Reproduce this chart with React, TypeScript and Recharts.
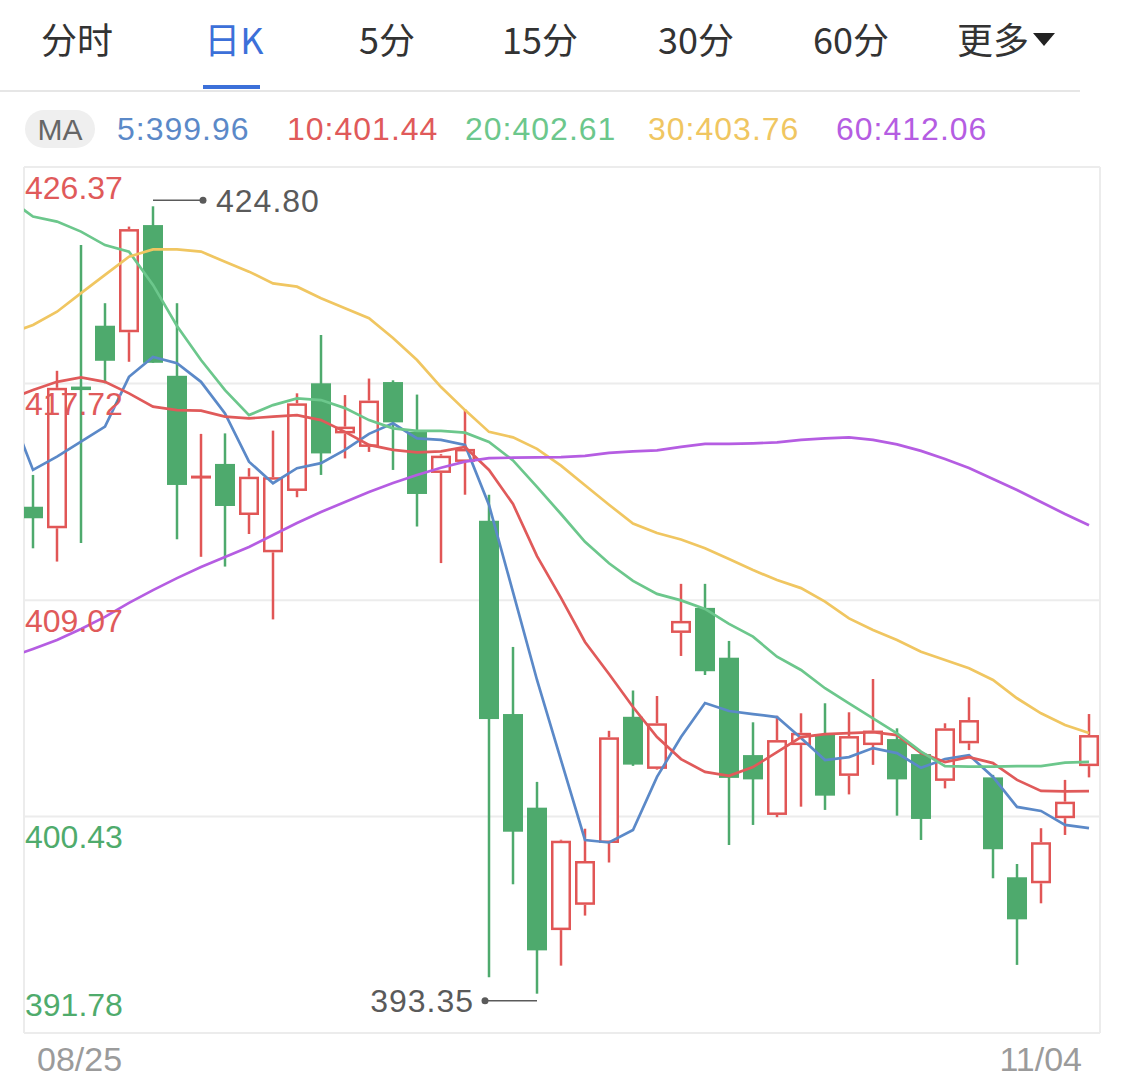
import React from "react";
import {
  ComposedChart, Bar, Line, XAxis, YAxis, CartesianGrid, ReferenceLine, ReferenceDot,
} from "recharts";

const SANS = '"Liberation Sans", Arial, Helvetica, sans-serif';
const CJK = '"Noto Sans CJK SC", "Liberation Sans", sans-serif';

const RISE = "#e15656";
const FALL = "#4eaa6d";
const GRID = "#ececec";
const NOTE = "#5a5a5a";
const ACTIVE = "#3c70d9";

/* ─── Daily candles (index 0 = 08/25 … 44 = 11/04) ─── */
const OPEN = [412.80, 411.94, 417.60, 420.03, 419.77, 424.05, 418.03, 413.95, 414.51, 412.47, 410.98, 413.43, 417.73, 415.73, 415.19, 417.78, 415.79, 414.15, 414.59, 412.24, 404.52, 400.78, 395.89, 396.90, 399.37, 404.41, 402.33, 407.76, 408.76, 406.77, 402.88, 400.49, 403.28, 403.72, 402.05, 403.28, 403.52, 402.92, 401.85, 403.35, 401.99, 398.00, 397.76, 400.36, 402.44];
const HIGH = [414.07, 418.23, 423.25, 420.93, 423.99, 424.80, 420.93, 415.71, 415.73, 414.34, 415.84, 417.33, 419.66, 417.26, 417.92, 417.85, 417.28, 414.90, 416.70, 413.28, 407.20, 401.81, 399.50, 399.94, 403.85, 405.46, 405.24, 409.72, 409.72, 407.44, 404.19, 404.45, 404.55, 404.95, 404.59, 405.92, 403.95, 402.95, 404.15, 405.19, 402.09, 398.53, 399.96, 401.89, 404.52];
const LOW = [411.14, 410.61, 411.35, 417.73, 418.59, 418.55, 411.50, 410.80, 410.41, 411.71, 408.30, 413.18, 414.07, 414.73, 414.99, 414.27, 412.01, 410.55, 413.28, 394.01, 397.72, 393.35, 394.47, 396.47, 398.59, 402.45, 402.30, 406.84, 406.08, 399.29, 400.09, 400.40, 400.82, 400.69, 401.31, 402.49, 400.46, 399.49, 401.55, 403.08, 397.96, 394.50, 396.96, 399.69, 401.99];
const CLOSE = [412.34, 417.55, 417.46, 418.63, 423.89, 418.55, 413.67, 414.02, 412.83, 414.00, 413.98, 416.93, 414.93, 416.00, 417.04, 416.17, 413.31, 414.84, 415.11, 404.32, 399.82, 395.08, 399.46, 398.65, 403.59, 402.50, 404.15, 408.24, 406.23, 401.97, 401.91, 403.48, 403.77, 401.26, 403.64, 403.86, 401.91, 400.33, 403.95, 404.28, 399.12, 396.32, 399.40, 401.02, 403.68];

/* ─── Moving averages: first value is the day before 08/25 (clipped at the edge) ─── */
const MA5 = [416.74, 414.27, 414.80, 415.40, 416.00, 417.99, 418.78, 418.53, 417.79, 416.53, 414.60, 413.74, 414.34, 414.54, 415.07, 415.71, 416.13, 415.53, 415.47, 415.27, 412.87, 409.39, 405.88, 402.68, 399.49, 399.39, 399.89, 402.01, 403.60, 404.96, 404.64, 404.52, 404.40, 403.56, 402.68, 402.80, 403.16, 402.96, 402.37, 402.72, 402.88, 402.01, 400.81, 400.65, 400.09, 399.96];
const MA10 = [417.10, 417.46, 417.79, 417.97, 417.79, 417.33, 416.80, 416.66, 416.64, 416.40, 416.33, 416.40, 416.46, 416.26, 415.79, 415.27, 415.07, 414.97, 415.01, 415.19, 414.27, 412.91, 410.83, 409.16, 407.40, 406.12, 404.80, 403.60, 402.72, 402.21, 402.05, 402.40, 403.00, 403.60, 403.72, 403.76, 403.80, 403.68, 402.96, 402.60, 402.80, 402.56, 401.89, 401.45, 401.43, 401.44];
const MA20 = [425.09, 424.39, 424.19, 423.79, 423.25, 422.99, 421.66, 420.02, 418.66, 417.46, 416.46, 416.86, 417.13, 417.06, 416.74, 416.26, 415.93, 415.83, 415.83, 415.76, 415.39, 414.65, 413.59, 412.51, 411.40, 410.54, 409.84, 409.32, 409.06, 408.72, 408.12, 407.61, 406.81, 406.28, 405.55, 404.95, 404.35, 403.75, 403.02, 402.44, 402.42, 402.42, 402.44, 402.44, 402.58, 402.61];
const MA30 = [419.71, 420.06, 420.59, 421.33, 422.06, 422.79, 423.08, 423.08, 422.99, 422.59, 422.19, 421.72, 421.59, 421.13, 420.73, 420.33, 419.54, 418.66, 417.58, 416.66, 415.79, 415.57, 415.11, 414.44, 413.66, 412.88, 412.13, 411.75, 411.49, 411.14, 410.71, 410.27, 409.87, 409.55, 409.01, 408.34, 407.88, 407.48, 407.01, 406.68, 406.35, 405.88, 405.15, 404.55, 404.08, 403.76];
const MA60 = [406.78, 407.12, 407.48, 407.92, 408.40, 408.96, 409.47, 409.95, 410.39, 410.79, 411.19, 411.67, 412.15, 412.59, 412.99, 413.39, 413.75, 414.07, 414.36, 414.60, 414.74, 414.76, 414.77, 414.78, 414.83, 414.95, 415.01, 415.05, 415.19, 415.31, 415.31, 415.33, 415.37, 415.47, 415.53, 415.57, 415.47, 415.29, 415.03, 414.71, 414.35, 413.91, 413.47, 412.99, 412.51, 412.06];

const MA_SERIES = [
  { key: "ma5", period: 5, values: MA5, color: "#5b89c8" },
  { key: "ma10", period: 10, values: MA10, color: "#e05a5a" },
  { key: "ma20", period: 20, values: MA20, color: "#6cc78c" },
  { key: "ma30", period: 30, values: MA30, color: "#f0c661" },
  { key: "ma60", period: 60, values: MA60, color: "#b55de2" },
];

const PRICE_TICKS = [391.78, 400.43, 409.07, 417.72, 426.37];
const PRICE_TICK_RISE = [false, false, true, true, true];
const DATE_TICKS = [{ i: 0, label: "08/25" }, { i: 44, label: "11/04" }];
const TABS = ["分时", "日K", "5分", "15分", "30分", "60分", "更多"];
const ACTIVE_TAB = 1;

// visible index window (candle 0 sits a bit in from the left border)
const X_MIN = -0.375;
const X_MAX = 44.458;

const rows = MA5.map((_, k) => {
  const i = k - 1;
  const row: any = { i, open: OPEN[i], high: HIGH[i], low: LOW[i], close: CLOSE[i] };
  MA_SERIES.forEach((s) => { row[s.key] = s.values[k]; });
  return row;
});

const maxHigh = Math.max(...HIGH);
const minLow = Math.min(...LOW);
const maxIdx = HIGH.indexOf(maxHigh);
const minIdx = LOW.indexOf(minLow);

const candleRange = (d: any) => (d.high == null ? null : [d.low, d.high]);

/* ─── Candle shape (bar spans low→high, body placed by ratio) ─── */
function Candle(props: any) {
  const { x, y, width, height, payload } = props;
  if (!payload || payload.open == null || !height || !isFinite(height)) return null;
  const { open, close, high, low } = payload;
  const ppu = height / (high - low);
  const yOf = (v: number) => y + (high - v) * ppu;
  const cx = x + width / 2;
  const top = yOf(Math.max(open, close));
  const bot = yOf(Math.min(open, close));
  const rise = close >= open;
  const color = rise ? RISE : FALL;
  const sw = 2.5;
  if (rise) {
    const bh = bot - top;
    return (
      <g>
        <line x1={cx} x2={cx} y1={y} y2={top} stroke={color} strokeWidth={sw} />
        <line x1={cx} x2={cx} y1={bot} y2={y + height} stroke={color} strokeWidth={sw} />
        {bh < 4 ? (
          <rect x={x} y={(top + bot) / 2 - 1.5} width={width} height={3} fill={color} />
        ) : (
          <rect x={x + sw / 2} y={top + sw / 2} width={width - sw} height={bh - sw}
                fill="#fff" stroke={color} strokeWidth={sw} />
        )}
      </g>
    );
  }
  return (
    <g>
      <line x1={cx} x2={cx} y1={y} y2={y + height} stroke={color} strokeWidth={sw} />
      <rect x={x} y={top} width={width} height={Math.max(bot - top, 3)} fill={color} />
    </g>
  );
}

function DateTick(props: any) {
  const { x, y, payload } = props;
  const t = DATE_TICKS.find((d) => d.i === payload.value);
  if (!t) return null;
  const first = t.i === DATE_TICKS[0].i;
  return (
    <text x={first ? x + 4 : x - 7} y={y + 36} textAnchor={first ? "start" : "end"}
          fill="#9b9b9b" fontSize={34} fontFamily={SANS}>
      {t.label}
    </text>
  );
}

function PriceTick({ viewBox, v, rise, below }: any) {
  if (!viewBox) return null;
  return (
    <text x={viewBox.x + 1} y={below ? viewBox.y + 31.5 : viewBox.y - 17.5}
          fill={rise ? "#e05a5a" : "#4fab6c"} fontSize={32} fontFamily={SANS}>
      {v.toFixed(2)}
    </text>
  );
}

function HighNote(props: any) {
  const { cx, cy } = props;
  const yy = cy - 6;
  return (
    <g>
      <line x1={cx} x2={cx + 50} y1={yy} y2={yy} stroke={NOTE} strokeWidth={1.5} />
      <circle cx={cx + 50} cy={yy} r={3.5} fill={NOTE} />
      <text x={cx + 63} y={yy + 11.5} fill={NOTE} fontSize={32} letterSpacing={1} fontFamily={SANS}>
        {maxHigh.toFixed(2)}
      </text>
    </g>
  );
}

function LowNote(props: any) {
  const { cx, cy } = props;
  const yy = cy + 7;
  return (
    <g>
      <line x1={cx} x2={cx - 52} y1={yy} y2={yy} stroke={NOTE} strokeWidth={1.5} />
      <circle cx={cx - 52} cy={yy} r={3.5} fill={NOTE} />
      <text x={cx - 63} y={yy + 11.5} textAnchor="end" fill={NOTE} fontSize={32} letterSpacing={1} fontFamily={SANS}>
        {minLow.toFixed(2)}
      </text>
    </g>
  );
}

const TAB_X = [77, 234, 387, 540, 696, 851, 993];
const MA_X = [117, 287, 465, 648, 836];

function Header() {
  return (
    <svg width={1125} height={160} style={{ position: "absolute", left: 0, top: 0 }}>
      {TABS.map((t, k) => (
        <text key={t} x={TAB_X[k]} y={54} textAnchor="middle" fontSize={36} fontFamily={CJK}
              fill={k === ACTIVE_TAB ? ACTIVE : "#333"}>
          {t}
        </text>
      ))}
      <path d="M1033 33 L1055 33 L1044 46 Z" fill="#222" />
      <rect x={203} y={85} width={57} height={4} fill={ACTIVE} />
      <rect x={0} y={90} width={1080} height={2} fill="#e6e6e6" />
      <rect x={25} y={110} width={70} height={38} rx={19} fill="#efefef" />
      <text x={60} y={140} textAnchor="middle" fontSize={30} fontFamily={SANS} fill="#666">MA</text>
      {MA_SERIES.map((s, k) => (
        <text key={s.key} x={MA_X[k]} y={140} fontSize={32} letterSpacing={1} fontFamily={SANS} fill={s.color}>
          {`${s.period}:${s.values[s.values.length - 1].toFixed(2)}`}
        </text>
      ))}
    </svg>
  );
}

export default function App() {
  return (
    <div style={{ position: "absolute", left: 0, top: 0, width: 1125, height: 1087, background: "#fff" }}>
      <ComposedChart width={1125} height={1087} data={rows}
                     margin={{ top: 167, right: 25, bottom: 0, left: 24 }}>
        <CartesianGrid stroke={GRID} strokeWidth={2}
                       horizontalValues={PRICE_TICKS} verticalValues={[X_MIN, X_MAX]} />
        <XAxis dataKey="i" type="number" domain={[X_MIN, X_MAX]} allowDataOverflow
               ticks={DATE_TICKS.map((d) => d.i)} interval={0} tick={DateTick}
               axisLine={false} tickLine={false} tickSize={0} height={54} />
        <YAxis hide type="number" domain={[PRICE_TICKS[0], PRICE_TICKS[PRICE_TICKS.length - 1]]}
               ticks={PRICE_TICKS} allowDataOverflow />

        <Bar dataKey={candleRange} barSize={20} shape={Candle} isAnimationActive={false} />

        {MA_SERIES.map((s) => (
          <Line key={s.key} type="linear" dataKey={s.key} stroke={s.color} strokeWidth={2.7}
                dot={false} activeDot={false} isAnimationActive={false} />
        ))}

        {PRICE_TICKS.map((v, k) => (
          <ReferenceLine key={`l${v}`} y={v} stroke="none"
                         label={(p: any) => <PriceTick {...p} v={v} rise={PRICE_TICK_RISE[k]} below={k > 0} />} />
        ))}
        <ReferenceDot x={maxIdx} y={maxHigh} r={0} shape={HighNote} />
        <ReferenceDot x={minIdx} y={minLow} r={0} shape={LowNote} />
      </ComposedChart>
      <Header />
    </div>
  );
}
